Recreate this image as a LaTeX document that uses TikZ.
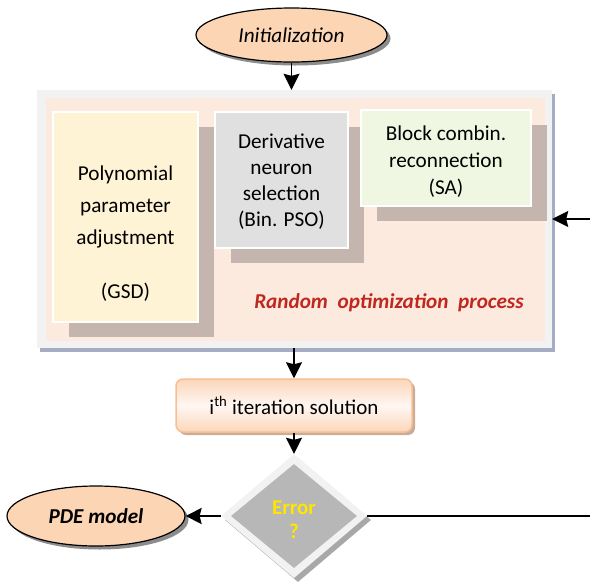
\documentclass[tikz,border=0pt]{standalone}
\usepackage{fontspec}
\setmainfont{Carlito}
\usetikzlibrary{shapes.geometric,shadows,arrows.meta}
\definecolor{peachEll}{HTML}{FCD5B4}
\definecolor{frameGray}{HTML}{F2F2F2}
\definecolor{frameShadow}{HTML}{A5ADC5}
\definecolor{innerPeach}{HTML}{FDEADF}
\definecolor{polyFill}{HTML}{FFF3D6}
\definecolor{derivFill}{HTML}{E0E0E0}
\definecolor{blockFill}{HTML}{EFF7E2}
\definecolor{boxShadow}{HTML}{C4B6AE}
\definecolor{redText}{HTML}{C0271F}
\definecolor{iterBorder}{HTML}{F7BE92}
\definecolor{iterPeach}{HTML}{FBD6BA}
\definecolor{iterLight}{HTML}{FFF7F2}
\definecolor{iterShadow}{HTML}{C9AD98}
\definecolor{diaInner}{HTML}{B7B7B7}
\definecolor{diaShadow}{HTML}{A8A8A8}
\definecolor{errYellow}{HTML}{FFE600}
\tikzset{
  txt/.style={font=\fontsize{21.2}{26}\selectfont, align=center, inner sep=0pt},
  ellbox/.style={ellipse, draw=black, line width=1.2pt, fill=peachEll, inner sep=0pt,
     drop shadow={shadow xshift=3.5pt, shadow yshift=-3.5pt, fill=black, opacity=0.45}},
  optbox/.style={rectangle, draw=white, line width=1.5pt, inner sep=0pt,
     drop shadow={shadow xshift=16pt, shadow yshift=-15pt, fill=boxShadow, opacity=1}},
  flow/.style={line width=1.7pt, -{Stealth[length=16pt,width=16pt,inset=2pt]}},
  plain/.style={line width=1.7pt}
}
\begin{document}
\begin{tikzpicture}[x=1pt,y=-1pt]
\useasboundingbox (0,0) rectangle (590,582);
% initialization
\node[ellbox, minimum width=191pt, minimum height=54pt] (init) at (291.5,35)
  {\fontsize{21.2}{24}\selectfont\itshape Initialization};
% outer frame
\node[rectangle, fill=frameGray, inner sep=0pt, minimum width=515pt, minimum height=258pt,
  drop shadow={shadow xshift=3pt, shadow yshift=-4pt, fill=frameShadow, opacity=1}]
  (frame) at (294.5,219) {};
\node[rectangle, fill=innerPeach, inner sep=0pt, minimum width=499pt, minimum height=243pt]
  (inner) at (295.5,219.5) {};
% three boxes
\node[optbox, fill=polyFill, minimum width=145pt, minimum height=210pt] (poly) at (125.5,217) {};
\node[txt, font=\fontsize{21.2}{32}\selectfont] (polyT) at (125.5,234)
  {Polynomial\\parameter\\adjustment\\[22pt](GSD)};
\node[optbox, fill=derivFill, minimum width=133pt, minimum height=136pt] (deriv) at (281.5,180) {};
\node[txt] (derivT) at (281.5,182) {Derivative\\neuron\\selection\\(Bin. PSO)};
\node[optbox, fill=blockFill, minimum width=170pt, minimum height=96pt] (block) at (446,158) {};
\node[txt, font=\fontsize{21.2}{27}\selectfont] (blockT) at (446,162) {Block combin.\\reconnection\\(SA)};
\node[txt, font=\fontsize{21.2}{24}\selectfont\bfseries\itshape, text=redText] (rand) at (389,303)
  {Random\ \ optimization\ \ process};
% iteration
\node[rectangle, rounded corners=7pt, draw=iterBorder, line width=1.5pt,
  top color=iterPeach, bottom color=iterPeach, middle color=iterLight,
  minimum width=236pt, minimum height=53pt, inner sep=0pt,
  drop shadow={shadow xshift=3pt, shadow yshift=-3pt, fill=iterShadow, opacity=1}]
  (iter) at (294,405.5) {\fontsize{21}{24}\selectfont i\textsuperscript{th} iteration solution};
% decision
\node[diamond, fill=frameGray, minimum width=146pt, minimum height=124pt, inner sep=0pt,
  drop shadow={shadow xshift=4pt, shadow yshift=-4pt, fill=diaShadow, opacity=1}]
  (err) at (294,516) {};
\node[diamond, fill=diaInner, minimum width=126pt, minimum height=104pt, inner sep=0pt,
  font=\fontsize{21}{23.5}\selectfont\bfseries, text=errYellow, align=center, text depth=0pt]
  (errIn) at (294,516) {\raisebox{-7pt}{\shortstack{Error\\[6pt]?}}};
% PDE model
\node[ellbox, minimum width=178pt, minimum height=60pt] (pde) at (96,516)
  {\fontsize{21.2}{24}\selectfont\bfseries\itshape PDE model};
% connectors
\coordinate (fbR) at (590,219);
\coordinate (errR) at (590,516);
\draw[flow] (init.south) -- (init.south |- frame.north);
\draw[flow] (fbR) -- (fbR -| frame.east);
\draw[flow] (iter.north |- frame.south) -- (iter.north);
\draw[flow] (iter.south) -- (err.north);
\draw[flow] (err.west) -- (pde.east);
\draw[plain] (err.east) -- (errR);
\end{tikzpicture}
\end{document}
